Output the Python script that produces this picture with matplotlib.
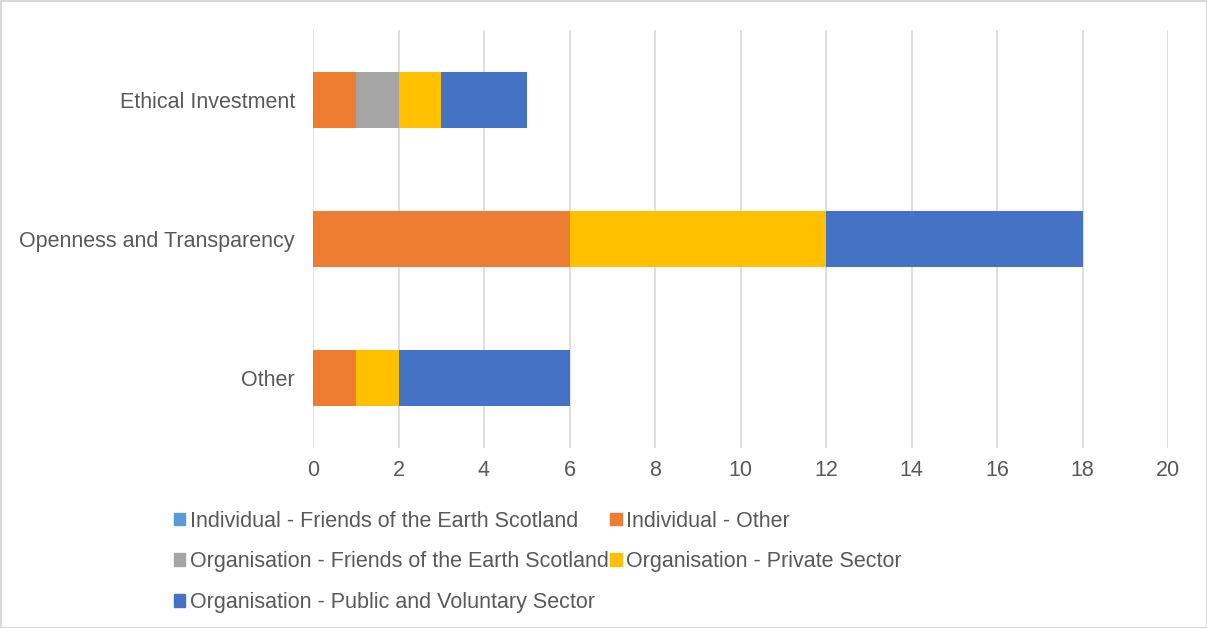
import matplotlib.pyplot as plt
import matplotlib.patches as mpatches
import numpy as np

plt.rcParams['font.family'] = ['Liberation Sans', 'DejaVu Sans']

categories = ['Ethical Investment', 'Openness and Transparency', 'Other']
series_names = [
    'Individual - Friends of the Earth Scotland',
    'Individual - Other',
    'Organisation - Friends of the Earth Scotland',
    'Organisation - Private Sector',
    'Organisation - Public and Voluntary Sector',
]
ind_foe = [0, 0, 0]
ind_other = [1, 6, 1]
org_foe = [1, 0, 0]
org_private = [1, 6, 1]
org_public = [2, 6, 4]
colors = ['#5b9bd5', '#ed7d31', '#a5a5a5', '#ffc000', '#4472c4']

text_color = '#595959'
grid_color = '#d9d9d9'
fs = 15.5

fig = plt.figure(figsize=(12.07, 6.28), dpi=100)
fig.patch.set_edgecolor(grid_color)
fig.patch.set_linewidth(2)
ax = fig.add_axes([313 / 1207, 1 - 448 / 628, (1168 - 313) / 1207, 418 / 628])

y = np.arange(len(categories))
left = np.zeros(len(categories))
handles = []
for name, vals, c in zip(series_names, [ind_foe, ind_other, org_foe, org_private, org_public], colors):
    ax.barh(y, vals, left=left, height=0.4, color=c, zorder=3)
    left += np.array(vals)
    handles.append(mpatches.Patch(color=c, label=name))

ax.set_ylim(2.5, -0.5)
ax.set_xlim(0, 20)
ax.set_xticks(range(0, 21, 2))
ax.set_yticks(y)
ax.set_yticklabels(categories)
ax.grid(axis='x', color=grid_color, linewidth=1.2, zorder=0)
for s in ax.spines.values():
    s.set_visible(False)
ax.tick_params(length=0, colors=text_color, labelsize=fs)
ax.tick_params(axis='x', pad=9)
ax.tick_params(axis='y', pad=13)

# legend fills columns first, so reorder to read row by row
order = [0, 2, 4, 1, 3]
fig.legend([handles[i] for i in order], [series_names[i] for i in order],
           ncol=2, loc='upper left', bbox_to_anchor=(165 / 1207, 1 - 502 / 628),
           frameon=False, fontsize=fs, labelcolor=text_color,
           handlelength=0.55, handleheight=0.55, handletextpad=0.2,
           columnspacing=0.05, labelspacing=0.92, borderaxespad=0)

fig.savefig('out.png', dpi=100, edgecolor=fig.get_edgecolor())
